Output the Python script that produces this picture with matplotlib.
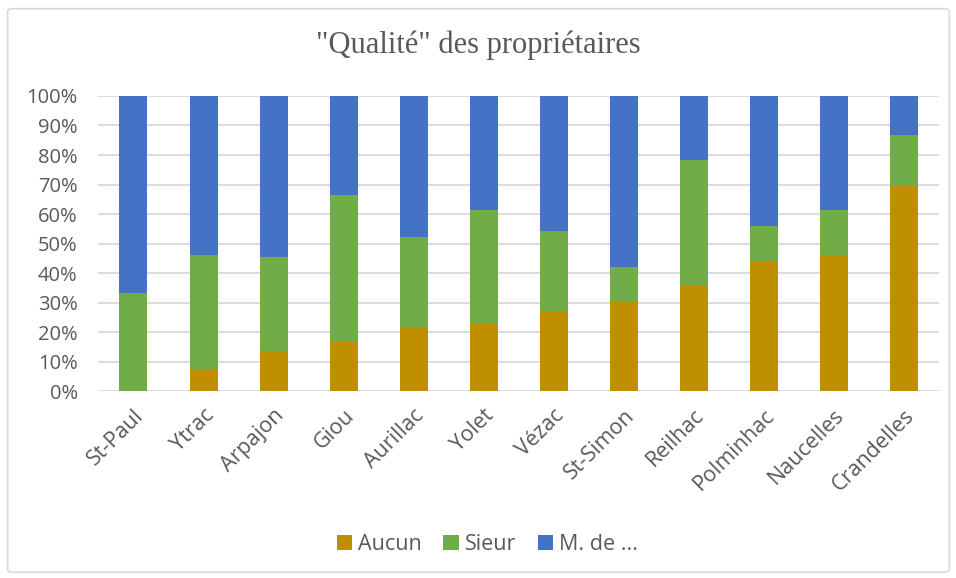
import matplotlib.pyplot as plt
import numpy as np
from matplotlib.patches import FancyBboxPatch
from matplotlib.ticker import PercentFormatter

communes = ["St-Paul", "Ytrac", "Arpajon", "Giou", "Aurillac", "Yolet", "Vézac",
            "St-Simon", "Reilhac", "Polminhac", "Naucelles", "Crandelles"]
# parts en %
aucun = [0.0, 7.4, 13.5, 16.6, 21.3, 22.8, 27.1, 30.6, 35.7, 43.8, 46.0, 69.5]
sieur = [33.3, 38.6, 31.9, 49.9, 31.0, 38.6, 27.2, 11.6, 42.6, 12.2, 15.4, 17.3]
m_de = [100 - a - s for a, s in zip(aucun, sieur)]

c_aucun = "#bf8f00"
c_sieur = "#70ad47"
c_mde = "#4472c4"
gris = "#595959"
police = "Open Sans"

fig = plt.figure(figsize=(9.56, 5.78), dpi=100)
fig.patches.append(FancyBboxPatch((0.008, 0.01), 0.985, 0.975, boxstyle="round,pad=0,rounding_size=0.005",
                                  transform=fig.transFigure, fc="none", ec="#d9d9d9", lw=1.2, zorder=-1))
ax = fig.add_axes([0.103, 0.323, 0.879, 0.511])

x = np.arange(len(communes))
larg = 0.4
ax.bar(x, aucun, larg, color=c_aucun, label="Aucun", zorder=3)
ax.bar(x, sieur, larg, bottom=aucun, color=c_sieur, label="Sieur", zorder=3)
ax.bar(x, m_de, larg, bottom=np.array(aucun) + np.array(sieur), color=c_mde, label="M. de ...", zorder=3)

ax.set_ylim(0, 100)
ax.set_xlim(-0.5, len(communes) - 0.5)
ax.set_yticks(np.arange(0, 101, 10))
ax.yaxis.set_major_formatter(PercentFormatter(decimals=0))
ax.grid(axis="y", color="#d9d9d9", lw=1.3, zorder=0)
for s in ax.spines.values():
    s.set_visible(False)
ax.tick_params(length=0, colors=gris, labelsize=14.5)
ax.tick_params(axis="y", pad=15)
ax.set_xticks(x)
ax.set_xticklabels(communes, rotation=45, ha="right", va="top", rotation_mode="anchor",
                   family=police, fontsize=15.5)
for lab in ax.get_yticklabels():
    lab.set_family(police)
ax.tick_params(axis="x", pad=10)

fig.text(0.5, 0.922, '"Qualité" des propriétaires', ha="center", va="center",
         fontsize=22, color=gris, family="Liberation Serif")

leg = ax.legend(loc="center", bbox_to_anchor=(0.51, 0.058), bbox_transform=fig.transFigure,
                ncol=3, frameon=False, handlelength=0.7, handleheight=0.7, handletextpad=0.3,
                columnspacing=1.0, prop={"family": police, "size": 15.5})
for t in leg.get_texts():
    t.set_color(gris)

fig.savefig("out.png", dpi=100)
